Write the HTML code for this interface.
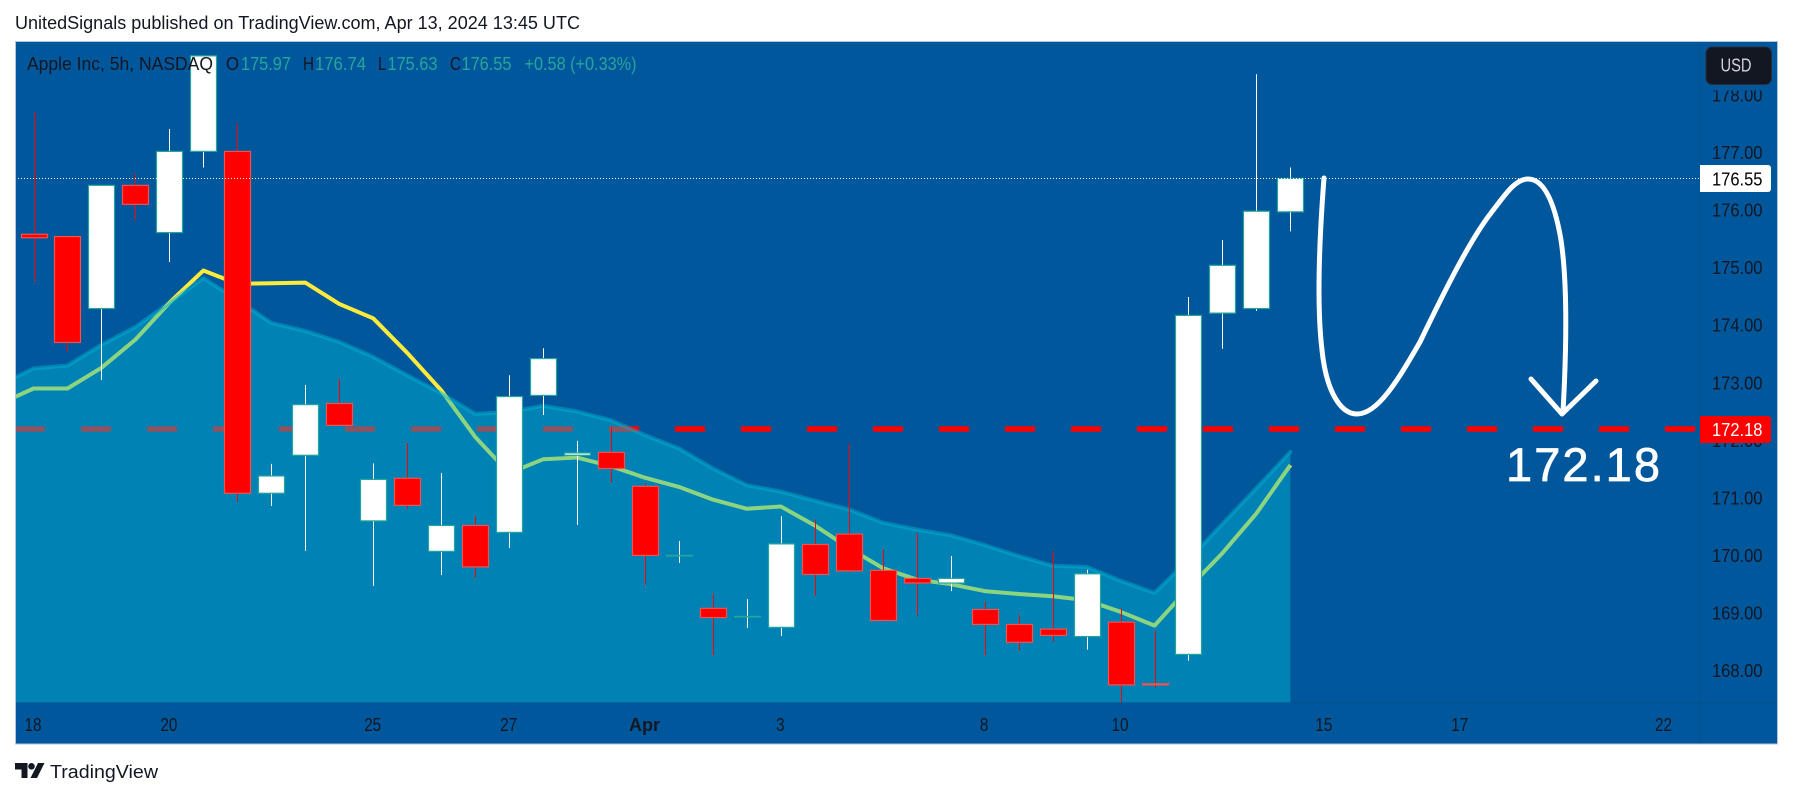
<!DOCTYPE html>
<html lang="en">
<head>
<meta charset="utf-8">
<title>Apple Inc 5h chart</title>
<style>
html,body{margin:0;padding:0;background:#fff;width:1793px;height:798px;overflow:hidden}
svg{display:block}
text{font-family:"Liberation Sans","DejaVu Sans",sans-serif}
</style>
</head>
<body>
<svg id="chart" width="1793" height="798" viewBox="0 0 1793 798" xmlns="http://www.w3.org/2000/svg">
  <defs><clipPath id="plot-clip"><rect x="15" y="41" width="1685" height="662"/></clipPath></defs>
  <text x="15" y="29" font-size="18" fill="#131722" textLength="565" lengthAdjust="spacingAndGlyphs">UnitedSignals published on TradingView.com, Apr 13, 2024 13:45 UTC</text>
  <rect x="15" y="41" width="1762.5" height="703" fill="#01579b"/>
  <g id="plot" clip-path="url(#plot-clip)"></g>
  <g id="drawing" fill="none" stroke="#fff" stroke-width="5" stroke-linecap="round" stroke-linejoin="round">
    <path d="M1324,178 C1320,230 1316,300 1322,350 C1326,390 1340,414 1357,414 C1378,414 1398,380 1420,342 C1445,290 1470,240 1491,213 C1505,195 1515,179 1528,179 C1545,179 1555,205 1561,240 C1567,280 1567,340 1563,412"/>
    <path d="M1531,379 L1562,414 L1596,381"/>
  </g>
  <text x="1506" y="481" font-size="47" fill="#fff" stroke="#fff" stroke-width="0.7" textLength="154">172.18</text>
  <line x1="1700" y1="41" x2="1700" y2="744" stroke="#01508f" stroke-width="1"/>
  <line x1="15" y1="703" x2="1777" y2="703" stroke="#01508f" stroke-width="1"/>
  <g id="price-axis"></g>
  <g id="time-axis"></g>
  <g font-size="18">
    <text x="27" y="70" fill="#131722" textLength="186" lengthAdjust="spacingAndGlyphs">Apple Inc, 5h, NASDAQ</text>
    <text x="226" y="70" fill="#131722" textLength="13" lengthAdjust="spacingAndGlyphs">O</text>
    <text x="241" y="70" fill="#26a69a" textLength="50" lengthAdjust="spacingAndGlyphs">175.97</text>
    <text x="303" y="70" fill="#131722" textLength="11" lengthAdjust="spacingAndGlyphs">H</text>
    <text x="315" y="70" fill="#26a69a" textLength="51" lengthAdjust="spacingAndGlyphs">176.74</text>
    <text x="378" y="70" fill="#131722" textLength="8.5" lengthAdjust="spacingAndGlyphs">L</text>
    <text x="387.5" y="70" fill="#26a69a" textLength="50" lengthAdjust="spacingAndGlyphs">175.63</text>
    <text x="450" y="70" fill="#131722" textLength="11" lengthAdjust="spacingAndGlyphs">C</text>
    <text x="461.5" y="70" fill="#26a69a" textLength="50" lengthAdjust="spacingAndGlyphs">176.55</text>
    <text x="524.5" y="70" fill="#26a69a" textLength="112" lengthAdjust="spacingAndGlyphs">+0.58 (+0.33%)</text>
  </g>
  <rect x="15.5" y="41.5" width="1762" height="702.5" fill="none" stroke="#b4c5d9" stroke-width="1"/>
  <g>
    <path fill="#131722" d="M15,763 H27.5 V778 H21.5 V769.5 H15 Z M44.5,763 L37,778 H30.5 L38,763 Z"/>
    <circle cx="31.5" cy="766.3" r="3.3" fill="#131722"/>
    <text x="50" y="778" font-size="18" fill="#131722" textLength="108" lengthAdjust="spacingAndGlyphs">TradingView</text>
  </g>
</svg>
<script>
const priceTicks = [168, 169, 170, 171, 172, 173, 174, 175, 176, 177, 178];
const timeTickBars = [0, 4, 10, 14, 18, 22, 28, 32, 38, 42, 48];
const timeTickLabels = ['18', '20', '25', '27', 'Apr', '3', '8', '10', '15', '17', '22'];
const opens = [175.58,175.54,174.29,176.43,175.61,177.02,177.02,171.08,171.74,172.64,170.60,171.34,170.07,170.52,170.40,172.78,171.74,171.79,171.20,170.00,169.08,168.94,168.75,170.19,170.37,169.74,169.60,169.52,169.06,168.80,168.72,168.59,168.84,167.77,168.28,174.21,174.29,175.97];
const highs = [177.70,175.54,176.43,176.63,177.41,178.68,177.50,171.59,172.96,173.06,171.60,171.95,171.43,170.68,173.13,173.60,171.99,172.23,171.25,170.25,169.34,169.24,170.68,170.62,171.94,170.11,170.38,169.99,169.20,168.96,170.07,169.75,169.08,168.69,174.49,175.48,178.36,176.74];
const lows = [174.77,173.54,173.05,175.82,175.10,176.74,170.93,170.86,170.08,172.26,169.47,170.81,169.66,169.61,170.13,172.44,170.53,171.26,169.49,169.87,168.26,168.74,168.60,169.30,169.71,168.85,168.96,169.38,168.26,168.34,168.50,168.36,167.44,167.70,168.17,173.59,174.25,175.63];
const closes = [175.52,173.70,176.43,176.10,177.02,178.68,171.08,171.38,172.62,172.26,171.32,170.87,170.52,169.80,172.76,173.42,171.78,171.51,170.00,170.00,168.92,168.94,170.20,169.67,169.73,168.87,169.52,169.60,168.80,168.49,168.61,169.68,167.75,167.75,174.17,175.04,175.98,176.55];
/* moving averages start one bar before the first visible candle */
const fastAverage = [172.63,172.90,172.90,173.26,173.75,174.39,174.95,174.72,174.73,174.74,174.37,174.12,173.52,172.87,172.06,171.43,171.67,171.70,171.55,171.35,171.19,170.97,170.81,170.85,170.52,170.13,169.78,169.58,169.50,169.38,169.33,169.29,169.22,169.02,168.78,169.43,170.04,170.73,171.57];
const slowAverage = [172.96,173.25,173.30,173.66,173.97,174.39,174.82,174.44,174.04,173.90,173.71,173.45,173.13,172.82,172.46,172.49,172.60,172.50,172.35,172.09,171.86,171.51,171.22,171.11,170.95,170.80,170.57,170.45,170.35,170.18,169.99,169.82,169.80,169.56,169.35,169.92,170.55,171.17,171.80];
const targetLevel = 172.18;
const lastPrice = 176.55;

const SVG_NS = 'http://www.w3.org/2000/svg';
function xScale(i) { return 33.5 + 33.97 * i; }
function yScale(p) { return 670.5 - (p - 168) * 57.55; }
function make(tag, parent, attrs) {
  const el = document.createElementNS(SVG_NS, tag);
  for (const k in attrs) el.setAttribute(k, attrs[k]);
  parent.appendChild(el);
  return el;
}
const plot = document.getElementById('plot');
const priceAxis = document.getElementById('price-axis');
const timeAxis = document.getElementById('time-axis');

const targetLine = make('line', plot, {x1: 15, x2: 1700, y1: yScale(targetLevel) - 1, y2: yScale(targetLevel) - 1, stroke: '#ff0000', 'stroke-width': 5.5, 'stroke-dasharray': '30 36'});



const fastPoints = fastAverage.map((v, i) => xScale(i - 1) + ',' + yScale(v));
const fastLine = make('polyline', plot, {points: fastPoints.join(' '), fill: 'none', stroke: '#ffeb3b', 'stroke-width': 4, 'stroke-linejoin': 'round'});



const slowPoints = slowAverage.map((v, i) => xScale(i - 1) + ',' + yScale(v));
const lastX = xScale(slowAverage.length - 2);
const firstX = xScale(-1);
const areaFill = make('polygon', plot, {points: slowPoints.join(' ') + ' ' + lastX + ',703 ' + firstX + ',703', fill: '#00b8d4', 'fill-opacity': 0.45});


const slowLine = make('polyline', plot, {points: slowPoints.join(' '), fill: 'none', stroke: '#00b8d4', 'stroke-opacity': 0.45, 'stroke-width': 4, 'stroke-linejoin': 'round', 'stroke-linecap': 'round'});



opens.forEach((open, i) => {
  const close = closes[i];
  const up = close >= open;
  const x = Math.round(xScale(i)) + 0.5;
  const wick = make('line', plot, {x1: x, x2: x, y1: yScale(highs[i]), y2: yScale(lows[i]), stroke: up ? '#ffffff' : '#ff0000', 'stroke-width': 1});
  
  
  const top = yScale(Math.max(open, close));
  const bottom = yScale(Math.min(open, close));
  const body = make('rect', plot, {x: x - 13, y: top, width: 26, height: Math.max(bottom - top, 0.5), fill: up ? '#ffffff' : '#ff0000', stroke: up ? '#26a69a' : '#ef5350', 'stroke-width': 1.2});
  
  
});

const lastLine = make('line', plot, {x1: 15, x2: 1700, y1: yScale(lastPrice), y2: yScale(lastPrice), stroke: '#ffffff', 'stroke-width': 1, 'stroke-dasharray': '1 2'});



priceTicks.forEach(p => {
  const t = make('text', priceAxis, {x: 1712, y: yScale(p) + 6.5, 'font-size': 18, fill: '#131722', textLength: 50.5, lengthAdjust: 'spacingAndGlyphs'});
  
  
  t.textContent = p.toFixed(2);
});

const usdGuard = make('rect', priceAxis, {x: 1701, y: 41.5, width: 76, height: 49, fill: '#01579b'});


const usdBox = make('rect', priceAxis, {x: 1706, y: 47, width: 65.5, height: 37.5, rx: 6, fill: '#131722', stroke: '#2a2e39', 'stroke-width': 1});


const usdText = make('text', priceAxis, {x: 1720.5, y: 71.5, 'font-size': 18, fill: '#d1d4dc', textLength: 31, lengthAdjust: 'spacingAndGlyphs'});


usdText.textContent = 'USD';

const lastBox = make('path', priceAxis, {d: 'M1700,165 H1768 a3,3 0 0 1 3,3 V189 a3,3 0 0 1 -3,3 H1700 Z', fill: '#ffffff'});


const lastText = make('text', priceAxis, {x: 1712, y: 185.3, 'font-size': 18, fill: '#000000', textLength: 50.5, lengthAdjust: 'spacingAndGlyphs'});


lastText.textContent = lastPrice.toFixed(2);

const targetBox = make('path', priceAxis, {d: 'M1700,416 H1768 a3,3 0 0 1 3,3 V440 a3,3 0 0 1 -3,3 H1700 Z', fill: '#ff0000'});


const targetText = make('text', priceAxis, {x: 1712, y: 436, 'font-size': 18, fill: '#ffffff', textLength: 50.5, lengthAdjust: 'spacingAndGlyphs'});


targetText.textContent = targetLevel.toFixed(2);

timeTickLabels.forEach((label, i) => {
  const bold = label === 'Apr';
  const t = make('text', timeAxis, {x: xScale(timeTickBars[i]) - 0.5, y: 731, 'font-size': 18, fill: '#131722', 'text-anchor': 'middle', 'font-weight': bold ? 700 : 400});
  
  
  if (!bold) t.setAttribute('textLength', label.length * 8.5);
  if (!bold) t.setAttribute('lengthAdjust', 'spacingAndGlyphs');
  t.textContent = label;
});
</script>
</body>
</html>
